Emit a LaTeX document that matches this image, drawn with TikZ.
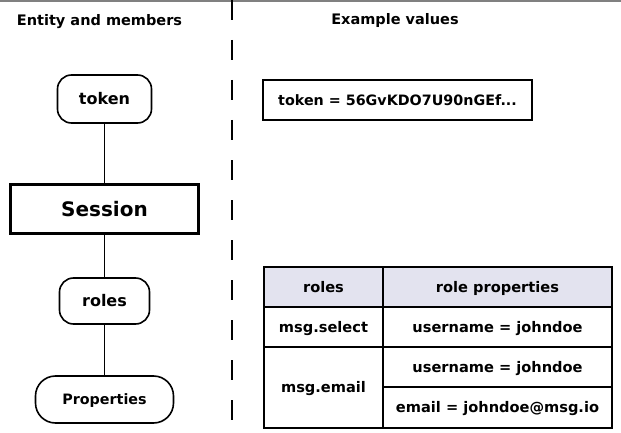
\documentclass[tikz,border=0pt]{standalone}
\usepackage{fontspec}
\setmainfont{DejaVu Sans}
\definecolor{hdr}{HTML}{E3E3EF}
\definecolor{topgray}{HTML}{808080}
\begin{document}
\begin{tikzpicture}[x=1pt,y=-1pt,
  ent/.style={draw, line width=1.6pt, rounded corners=14pt, inner sep=0pt, text height=11.7pt, text depth=0pt, font=\fontsize{16}{19}\selectfont\bfseries},
  entsmall/.style={draw, line width=1.6pt, rounded corners=20pt, inner sep=0pt, text height=10.4pt, text depth=0pt, font=\fontsize{14.3}{17}\selectfont\bfseries},
  mainent/.style={draw, line width=3.5pt, inner sep=0pt, text height=14.6pt, text depth=0pt, font=\fontsize{20}{24}\selectfont\bfseries},
  valbox/.style={draw, line width=1.8pt, inner sep=0pt, text height=10.5pt, text depth=0pt, font=\fontsize{14.3}{17}\selectfont\bfseries},
  cell/.style={draw, line width=1.8pt, inner sep=0pt, text height=10.6pt, text depth=0pt, font=\fontsize{14.6}{17}\selectfont\bfseries},
  hcell/.style={cell, fill=hdr},
  link/.style={line width=1.6pt},
  title/.style={font=\fontsize{14.5}{17}\selectfont\bfseries, inner sep=0pt, anchor=base}]
\useasboundingbox (0,0) rectangle (621,433);
\fill[topgray] (0,0) rectangle (621,2);
\node[title] (t1) at (99.5,26) {Entity and members};
\node[title] (t2) at (395,25) {Example values};
\coordinate (dtop) at (232,0);
\coordinate (dbot) at (232,433);
\draw[line width=1.6pt, dash pattern=on 20pt off 20pt] (dtop) -- (dbot);

\node[ent, minimum width=94pt, minimum height=48pt] (token) at (104.5,99) {token};
\node[mainent, minimum width=188pt, minimum height=49pt] (session) at (104.5,209) {Session};
\node[ent, minimum width=90pt, minimum height=46pt] (roles) at (104.5,301) {roles};
\node[entsmall, minimum width=138pt, minimum height=47pt] (props) at (104.5,399.5) {Properties};
\draw[link] (token.south) -- (session.north);
\draw[link] (session.south) -- (roles.north);
\draw[link] (roles.south) -- (props.north);

\node[valbox, minimum width=269pt, minimum height=40pt] (tokval) at (397.5,100) {token = 56GvKDO7U90nGEf...};

\node[hcell, minimum width=119pt, minimum height=40pt] (hroles) at (323.5,287) {roles};
\node[hcell, minimum width=229pt, minimum height=40pt] (hprops) at (497.5,287) {role properties};
\node[cell, minimum width=119pt, minimum height=40pt] (sel) at (323.5,327) {msg.select};
\node[cell, minimum width=229pt, minimum height=40pt] (selu) at (497.5,327) {username = johndoe};
\node[cell, minimum width=119pt, minimum height=81pt] (em) at (323.5,387.5) {msg.email};
\node[cell, minimum width=229pt, minimum height=40pt] (emu) at (497.5,367) {username = johndoe};
\node[cell, minimum width=229pt, minimum height=41pt] (eme) at (497.5,407.5) {email = johndoe@msg.io};
\end{tikzpicture}
\end{document}
